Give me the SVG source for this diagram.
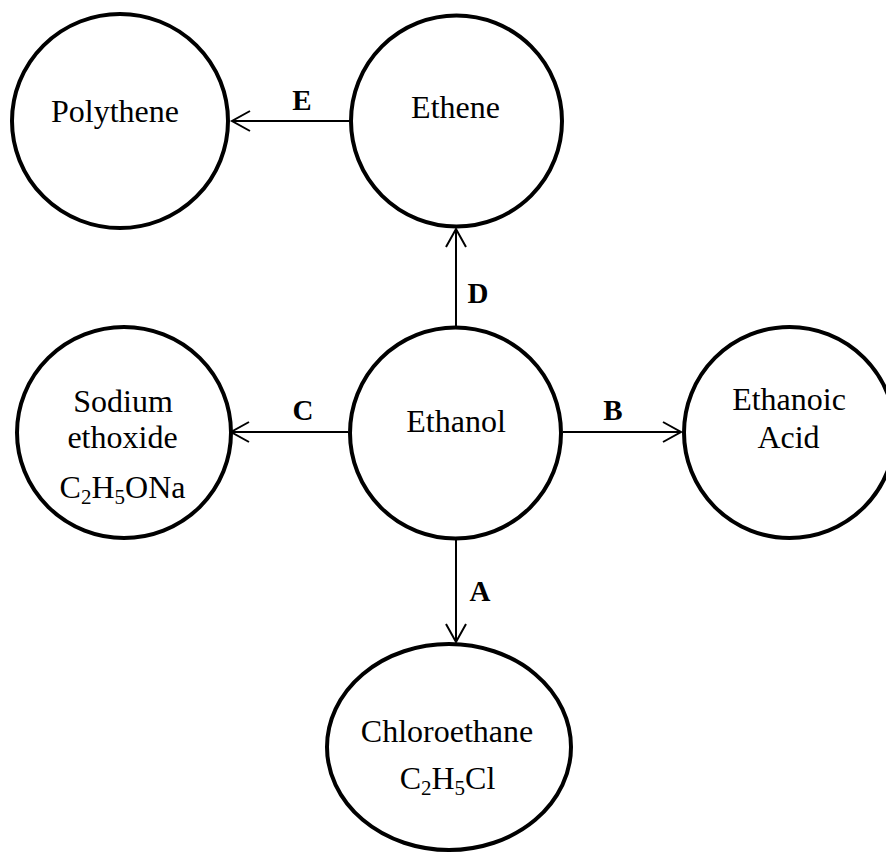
<svg xmlns="http://www.w3.org/2000/svg" width="886" height="854" viewBox="0 0 886 854">
<style>
  .node { fill: #ffffff; stroke: #000000; stroke-width: 4; }
  .lbl { font-family: "Liberation Serif", "Times New Roman", serif; font-size: 32px; fill: #000000; text-anchor: middle; }
  .sub { font-size: 21px; }
  .edge { stroke: #000000; stroke-width: 2; fill: none; }
  .elbl { font-family: "Liberation Serif", "Times New Roman", serif; font-size: 29px; font-weight: bold; fill: #000000; text-anchor: middle; }
</style>
<defs>
  <marker id="arrow" markerUnits="userSpaceOnUse" markerWidth="26" markerHeight="26" viewBox="-22 -13 26 26" refX="0" refY="0" orient="auto">
    <path d="M-18,-10 L0,0 L-18,10" fill="none" stroke="#000000" stroke-width="2"/>
  </marker>
</defs>
<rect width="886" height="854" fill="#ffffff"/>
<g id="connectors">
  <line class="edge" x1="349" y1="121" x2="232" y2="121" marker-end="url(#arrow)"/>
  <text class="elbl" x="302" y="110">E</text>
  <line class="edge" x1="456" y1="326" x2="456" y2="229" marker-end="url(#arrow)"/>
  <text class="elbl" x="478" y="303">D</text>
  <line class="edge" x1="348" y1="432" x2="231" y2="432" marker-end="url(#arrow)"/>
  <text class="elbl" x="303" y="420">C</text>
  <line class="edge" x1="563" y1="432" x2="681" y2="432" marker-end="url(#arrow)"/>
  <text class="elbl" x="613" y="420">B</text>
  <line class="edge" x1="456" y1="540" x2="456" y2="642" marker-end="url(#arrow)"/>
  <text class="elbl" x="480" y="601">A</text>
</g>
<g id="polythene">
  <ellipse class="node" cx="120" cy="121" rx="108" ry="107"/>
  <text class="lbl" x="115" y="122">Polythene</text>
</g>
<g id="ethene">
  <circle class="node" cx="456.5" cy="121" r="105.5"/>
  <text class="lbl" x="455.5" y="118">Ethene</text>
</g>
<g id="ethanol">
  <circle class="node" cx="455.5" cy="433" r="105.5"/>
  <text class="lbl" x="456" y="432">Ethanol</text>
</g>
<g id="sodium-ethoxide">
  <ellipse class="node" cx="124" cy="432.5" rx="107" ry="105.5"/>
  <text class="lbl" x="123" y="412">Sodium</text>
  <text class="lbl" x="122.5" y="448">ethoxide</text>
  <text class="lbl" x="122.5" y="498">C<tspan class="sub" dy="6">2</tspan><tspan dy="-6">H</tspan><tspan class="sub" dy="6">5</tspan><tspan dy="-6">ONa</tspan></text>
</g>
<g id="ethanoic-acid">
  <circle class="node" cx="789.5" cy="432.5" r="105.5"/>
  <text class="lbl" x="789" y="410">Ethanoic</text>
  <text class="lbl" x="788.5" y="448">Acid</text>
</g>
<g id="chloroethane">
  <ellipse class="node" cx="449" cy="747" rx="122" ry="103"/>
  <text class="lbl" x="447" y="742">Chloroethane</text>
  <text class="lbl" x="447.5" y="789">C<tspan class="sub" dy="6">2</tspan><tspan dy="-6">H</tspan><tspan class="sub" dy="6">5</tspan><tspan dy="-6">Cl</tspan></text>
</g>
</svg>
